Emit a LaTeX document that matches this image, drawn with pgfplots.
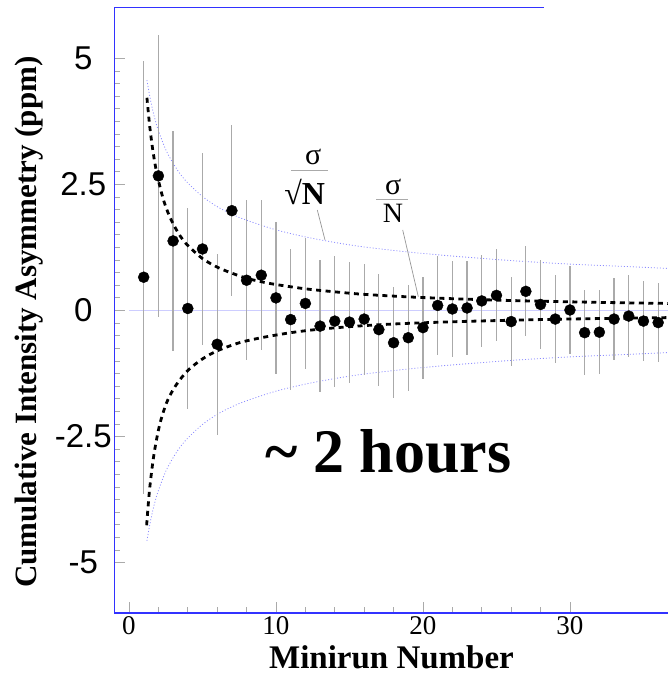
\documentclass[border=0pt]{standalone}
\usepackage{fontspec}
\setmainfont{Liberation Serif}
\newfontfamily\sansf{Liberation Sans}
\usepackage{pgfplots}
\usepackage{pgfplotstable}
\pgfplotsset{compat=1.18}
\definecolor{axblue}{RGB}{50,50,255}
\definecolor{zeroblue}{RGB}{205,205,255}
\definecolor{dotblue}{RGB}{140,140,255}
\definecolor{ebgray}{RGB}{170,170,170}
\definecolor{lgray}{RGB}{150,150,150}

\pgfplotstableread{
N v e
1 0.66 4.29
2 2.67 2.79
3 1.38 2.19
4 0.04 1.99
5 1.22 1.90
6 -0.67 1.80
7 1.98 1.70
8 0.60 1.59
9 0.70 1.49
10 0.25 1.50
11 -0.18 1.39
12 0.14 1.30
13 -0.31 1.31
14 -0.21 1.30
15 -0.23 1.20
16 -0.17 1.10
17 -0.38 1.11
18 -0.64 1.10
19 -0.54 1.05
20 -0.34 1.01
21 0.10 0.98
22 0.03 0.95
23 0.05 0.93
24 0.19 0.92
25 0.30 0.91
26 -0.22 0.88
27 0.38 0.89
28 0.12 0.88
29 -0.17 0.88
30 0.01 0.87
31 -0.44 0.84
32 -0.43 0.83
33 -0.17 0.82
34 -0.11 0.81
35 -0.21 0.80
36 -0.24 0.79
}\runs

\begin{document}
\begin{tikzpicture}
\useasboundingbox (0pt,0pt) rectangle (668pt,680pt);
\begin{axis}[
  at={(114.3pt,67pt)}, anchor=south west,
  scale only axis, width=553.7pt, height=605pt,
  xmin=-1, xmax=36.67, ymin=-6, ymax=6,
  axis x line*=bottom, axis y line*=left,
  axis line style={axblue, line width=1.3pt, -},
  xtick={0,10,20,30}, xticklabels={0,10,20,30},
  minor x tick num=4,
  ytick={-5,-2.5,0,2.5,5}, yticklabels={-5,-2.5,0,2.5,5},
  minor y tick num=9,
  tick align=inside,
  major tick length=11pt, minor tick length=5.5pt,
  tick style={ebgray, line width=0.8pt},
  xticklabel style={font=\fontsize{27}{27}\selectfont},
  yticklabel style={font=\sansf\fontsize{33}{33}\selectfont, anchor=center, xshift=-31pt},
]
% zero line
\addplot[zeroblue, line width=1.5pt, forget plot] coordinates {(0,0) (36.67,0)};
% sigma/sqrt(N) dotted
\addplot[dotblue, line width=0.8pt, dash pattern=on 1pt off 2pt, smooth] coordinates {
(1.22,4.57)(1.4,4.27)(1.6,3.99)(1.8,3.76)(2.0,3.57)(2.5,3.19)(3.0,2.92)(3.5,2.70)(4,2.53)(5,2.26)(6,2.06)(7,1.91)(8,1.79)(10,1.60)(12,1.46)(14,1.35)(16,1.26)(19,1.16)(22,1.08)(26,0.99)(30,0.92)(34,0.87)(37,0.83)};
\addplot[dotblue, line width=0.8pt, dash pattern=on 1pt off 2pt, smooth] coordinates {
(1.22,-4.57)(1.4,-4.27)(1.6,-3.99)(1.8,-3.76)(2.0,-3.57)(2.5,-3.19)(3.0,-2.92)(3.5,-2.70)(4,-2.53)(5,-2.26)(6,-2.06)(7,-1.91)(8,-1.79)(10,-1.60)(12,-1.46)(14,-1.35)(16,-1.26)(19,-1.16)(22,-1.08)(26,-0.99)(30,-0.92)(34,-0.87)(37,-0.83)};
% error bars
\addplot[only marks, mark=*, mark size=0pt, draw=none,
  error bars/.cd, y dir=both, y explicit,
  error bar style={ebgray, line width=1.2pt, solid}, error mark=none]
  table[x=N, y=v, y error=e] {\runs};
% sigma/N dashed
\addplot[black, line width=2.8pt, dash pattern=on 5pt off 4.5pt, smooth] coordinates {
(1.22,4.22)(1.4,3.68)(1.6,3.22)(1.8,2.86)(2.0,2.58)(2.3,2.24)(2.6,1.98)(3.0,1.72)(3.5,1.47)(4,1.29)(5,1.03)(6,0.86)(7,0.74)(8,0.64)(9,0.57)(10,0.515)(12,0.43)(14,0.37)(16,0.32)(19,0.27)(22,0.234)(26,0.198)(30,0.172)(34,0.151)(37,0.139)};
\addplot[black, line width=2.8pt, dash pattern=on 5pt off 4.5pt, smooth] coordinates {
(1.2,-4.26)(1.4,-3.55)(1.7,-2.85)(2.1,-2.25)(2.6,-1.8)(3.2,-1.48)(4,-1.19)(5,-0.96)(6,-0.8)(7.5,-0.64)(9,-0.54)(11,-0.44)(13,-0.37)(16,-0.30)(19,-0.255)(23,-0.215)(28,-0.18)(33,-0.155)(37,-0.14)};
% points
\addplot[only marks, mark=*, mark size=5.5pt, black] table[x=N, y=v] {\runs};
\end{axis}
% partial top frame line
\draw[axblue, line width=1pt] (114.3pt,672pt) -- (544pt,672pt);
% axis labels
\node[rotate=90, font=\bfseries\fontsize{31}{31}\selectfont] at (29pt,358pt) {Cumulative Intensity Asymmetry (ppm)};
\node[anchor=base, font=\bfseries\fontsize{33}{33}\selectfont] at (391.5pt,12pt) {Minirun Number};
% big note
\node[anchor=base, font=\bfseries\fontsize{62}{62}\selectfont] at (388.5pt,207pt) {\char"7E\ 2 hours};
% sigma / sqrt N annotation
\node[anchor=base, inner sep=0pt, font=\fontsize{30}{30}\selectfont] at (313.3pt,515pt) {σ};
\draw[ebgray, line width=0.8pt] (291pt,509.3pt) -- (327.7pt,509.3pt);
\node[anchor=base, inner sep=0pt, font=\fontsize{32}{32}\selectfont] at (304.7pt,475pt) {√\textbf{N}};
\draw[lgray, line width=0.7pt] (317.3pt,470pt) -- (325pt,440pt);
% sigma / N annotation
\node[anchor=base, inner sep=0pt, font=\fontsize{30}{30}\selectfont] at (393.3pt,485pt) {σ};
\draw[ebgray, line width=0.8pt] (376pt,481pt) -- (407.7pt,481pt);
\node[anchor=base, inner sep=0pt, font=\fontsize{28}{28}\selectfont] at (393pt,457.3pt) {N};
\draw[lgray, line width=0.7pt] (402.7pt,450pt) -- (418.3pt,383.3pt);
\end{tikzpicture}
\end{document}
